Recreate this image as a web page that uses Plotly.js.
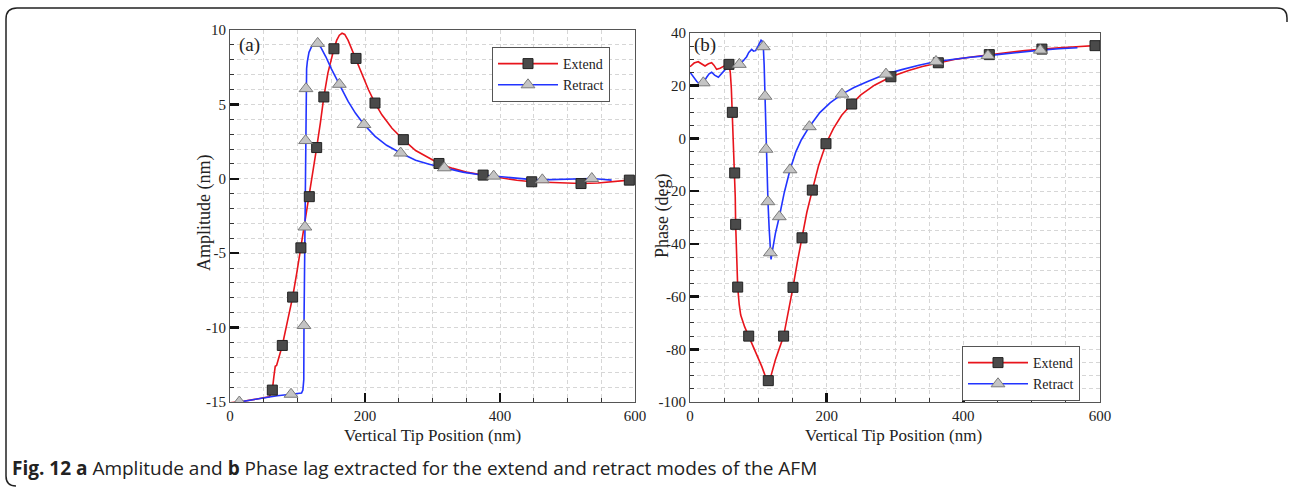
<!DOCTYPE html>
<html>
<head>
<meta charset="utf-8">
<script src="https://cdn.plot.ly/plotly-3.0.1.min.js"></script>
<style>html,body{margin:0;padding:0;background:#fff;}#chart{width:1289px;height:487px;}</style>
</head>
<body>
<div id="chart"></div>
<script>
// ---------- (a) Amplitude ----------
const ampExtendX = [0,20,40,58,61,62.7,65,67,69,72,77.5,85,92.8,99,105,111,117.5,123,128.4,134,139,145,150,154,158,162,166,170,175,180,186.7,195,205,214.8,225,240,256.8,275,290,309.6,330,350,375,400,425,447,470,495,520,545,570,591.6,597];
const ampExtendY = [-15.05,-14.95,-14.8,-14.65,-14.4,-14.2,-13.3,-12.6,-12.55,-12.0,-11.2,-9.6,-7.95,-6.3,-4.64,-3.0,-1.2,0.5,2.1,3.8,5.5,7.1,8.1,8.74,9.3,9.65,9.78,9.7,9.3,8.75,8.09,7.1,6.0,5.09,4.3,3.4,2.63,1.9,1.5,1.03,0.7,0.45,0.25,0.05,-0.1,-0.2,-0.25,-0.3,-0.32,-0.28,-0.2,-0.09,-0.05];
const ampRetractX = [0,13.8,30,50,70,90.4,100,106,108,109.3,109.6,110.3,111,112,112.6,113.5,114.6,117,121,125,129.9,135,142,150,162,175,186,198.5,215,232,252.8,275,295,317.5,345,370,390.6,420,440,462.7,490,515,536,550,565.4];
const ampRetractY = [-15.1,-15.0,-14.85,-14.7,-14.58,-14.48,-14.45,-14.4,-14.2,-13.5,-9.86,-6,-3.24,2.57,6.06,7.4,7.9,8.5,8.9,9.08,9.1,8.8,8.2,7.4,6.35,5.2,4.4,3.65,2.85,2.25,1.73,1.25,0.98,0.74,0.45,0.27,0.18,0.05,-0.02,-0.07,-0.05,-0.02,0.02,-0.03,-0.09];
const ampExtendMkX = [62.7,77.5,92.8,105,117.5,128.4,139,154,186.7,214.8,256.8,309.6,375,447,520,591.6];
const ampExtendMkY = [-14.2,-11.2,-7.95,-4.64,-1.2,2.1,5.5,8.74,8.09,5.09,2.63,1.03,0.25,-0.2,-0.32,-0.09];
const ampRetractMkX = [13.8,90.4,109.6,111,112,112.6,129.9,162,198.5,252.8,317.5,390.6,462.7,536];
const ampRetractMkY = [-15,-14.48,-9.86,-3.24,2.57,6.06,9.1,6.35,3.65,1.73,0.74,0.18,-0.07,0.02];
const ampTickVals = [-15,-10,-5,0,5,10];
const ampTickText = ["-15","-10","-5","0","5","10"];

// ---------- (b) Phase ----------
const phExtendX = [0,6,12,17,22,27,31.7,35,39,44,49,53,57,59,60.5,62,63.5,65.4,66.2,66.8,68,69.8,72,74.2,80,85.9,95,105,112,114.6,117,125,137,144,150.7,157,163.9,171,179,188,199,210,222,236.6,250,270,294,320,340,363.4,390,415,438,465,490,515,540,565,592.7,598];
const phExtendY = [27.2,28.6,29.1,28.2,27.5,28.3,28.7,27.8,26.2,26.6,27.4,27.9,28.1,25,19,9.9,-1,-13.1,-22,-32.6,-45,-56.4,-63,-67,-71.5,-75,-80.5,-86.5,-91.5,-92,-91.5,-84,-75,-66,-56.5,-47,-37.7,-28,-19.6,-10.5,-2.0,3.8,8.8,13.05,16.5,20.2,23.4,25.8,27.3,28.7,30.1,31.0,31.8,32.6,33.3,33.9,34.4,34.8,35.2,35.3];
const phRetractX = [0,5,10,14.6,19.5,24.4,28,31.7,36,41.5,46,51,58.5,65,72.2,78,82.9,86,90.2,93,96,100,104,105.5,107.3,108.5,109.8,110.5,111.2,112.5,114.1,115.8,117.6,118.6,121,125,130.7,138,146.4,155,163,174.7,190,205,222.4,240,260,286.8,310,335,360,385,410,436,460,485,512.7,540,567];
const phRetractY = [25.1,23.5,21.6,20.6,21.1,23.2,24.5,25.1,24,23.2,24.5,26,27,27.6,28.1,29.5,31,32.6,33.8,33.1,33.3,35.2,37.3,37,34.8,28,16.0,6,-4.1,-14,-24.0,-34,-43.4,-45.9,-42,-36,-29.7,-20.5,-11.9,-5,-0.5,4.45,9.8,13.5,16.8,19.3,21.6,24.4,26.1,27.8,29.2,30.1,30.8,31.4,32.1,32.8,33.5,34,34.4];
const phExtendMkX = [57,62,65.4,66.8,69.8,85.9,114.6,137,150.7,163.9,179,199,236.6,294,363.4,438,515,592.7];
const phExtendMkY = [28.1,9.9,-13.1,-32.6,-56.4,-75,-91.9,-75,-56.5,-37.7,-19.6,-2.0,13.05,23.4,28.7,31.8,33.9,35.2];
const phRetractMkX = [19.5,72.2,107.3,109.8,111.2,114.1,117.6,130.7,146.4,174.7,222.4,286.8,360,436,512.7];
const phRetractMkY = [21.1,28.1,34.8,16.0,-4.1,-24.0,-43.4,-29.7,-11.9,4.45,16.8,24.4,29.2,31.4,33.5];
const phTickVals = [-100,-80,-60,-40,-20,0,20,40];
const phTickText = ["-100","-80","-60","-40","-20","0","20","40"];

const xTickVals = [0,200,400,600];
const xTickText = ["0","200","400","600"];
const seriesNames = ["Extend","Retract"];

// ---------- styling ----------
const W = 1289, H = 487;
const px = v => v / W;
const py = v => 1 - v / H;
const RED = "#e8141c", BLUE = "#2234ff";
const SERIF = "Liberation Serif, Times New Roman, serif";
const extMarker = {symbol: "square", size: 10, color: "#4a4a4a", line: {color: "#222", width: 1}};
const retMarker = {symbol: "triangle-up", size: 12, color: "#c4c4c4", line: {color: "#7a7a7a", width: 1}};

function curve(x, y, color, xa, ya) {
  return {x, y, xaxis: xa, yaxis: ya, mode: "lines", line: {color, width: 1.6}, showlegend: false, hoverinfo: "skip"};
}
function marks(x, y, marker, xa, ya) {
  return {x, y, xaxis: xa, yaxis: ya, mode: "markers", marker, showlegend: false};
}
function legendEntry(name, color, marker, xa, ya, leg) {
  return {x: [null], y: [null], xaxis: xa, yaxis: ya, mode: "lines+markers", name, legend: leg,
          line: {color, width: 1.6}, marker, showlegend: true};
}

const data = [
  curve(ampExtendX, ampExtendY, RED, "x", "y"),
  curve(ampRetractX, ampRetractY, BLUE, "x", "y"),
  marks(ampExtendMkX, ampExtendMkY, extMarker, "x", "y"),
  marks(ampRetractMkX, ampRetractMkY, retMarker, "x", "y"),
  legendEntry(seriesNames[0], RED, extMarker, "x", "y", "legend"),
  legendEntry(seriesNames[1], BLUE, retMarker, "x", "y", "legend"),
  curve(phExtendX, phExtendY, RED, "x2", "y2"),
  curve(phRetractX, phRetractY, BLUE, "x2", "y2"),
  marks(phExtendMkX, phExtendMkY, extMarker, "x2", "y2"),
  marks(phRetractMkX, phRetractMkY, retMarker, "x2", "y2"),
  legendEntry(seriesNames[0], RED, extMarker, "x2", "y2", "legend2"),
  legendEntry(seriesNames[1], BLUE, retMarker, "x2", "y2", "legend2")
];

const gridCommon = {
  showline: true, mirror: true, linecolor: "#555", linewidth: 1,
  ticks: "inside", ticklen: 9, tickwidth: 2.5, tickcolor: "#111",
  showgrid: true, gridcolor: "#d6d6d6", griddash: "4px,3px", gridwidth: 1,
  zeroline: false, automargin: false, fixedrange: true,
  tickfont: {family: SERIF, size: 15, color: "#222"}
};
function xAxis(domain, anchor) {
  return Object.assign({}, gridCommon, {
    domain, anchor, range: [0, 600], tickmode: "array", tickvals: xTickVals, ticktext: xTickText,
    minor: {dtick: 50, tick0: 0, ticks: "inside", ticklen: 4, tickwidth: 1, tickcolor: "#333",
            showgrid: true, gridcolor: "#d6d6d6", griddash: "4px,3px", gridwidth: 1}
  });
}
function yAxis(domain, anchor, range, vals, text, minorStep) {
  return Object.assign({}, gridCommon, {
    domain, anchor, range, tickmode: "array", tickvals: vals, ticktext: text,
    minor: {dtick: minorStep, tick0: 0, ticks: "inside", ticklen: 4, tickwidth: 1, tickcolor: "#333",
            showgrid: true, gridcolor: "#d6d6d6", griddash: "4px,3px", gridwidth: 1}
  });
}

const legendCommon = {
  bgcolor: "#fff", bordercolor: "#555", borderwidth: 1,
  font: {family: SERIF, size: 14, color: "#222"},
  xanchor: "left", yanchor: "top", itemwidth: 60, tracegroupgap: 0
};

const xTitleFont = {family: SERIF, size: 17, color: "#222"};
const yTitleFont = {family: SERIF, size: 18, color: "#222"};

const layout = {
  width: W, height: H,
  margin: {l: 0, r: 0, t: 0, b: 0},
  paper_bgcolor: "#fff", plot_bgcolor: "#fff",
  showlegend: true,
  xaxis: xAxis([px(230), px(635)], "y"),
  yaxis: yAxis([1 - 402 / H, 1 - 30 / H], "x", [-15, 10], ampTickVals, ampTickText, 1),
  xaxis2: xAxis([px(690), px(1100)], "y2"),
  yaxis2: yAxis([1 - 402 / H, 1 - 33 / H], "x2", [-100, 40], phTickVals, phTickText, 5),
  legend: Object.assign({}, legendCommon, {x: px(492), y: py(47)}),
  legend2: Object.assign({}, legendCommon, {x: px(962), y: py(346)}),
  annotations: [
    {text: "(a)", xref: "paper", yref: "paper", x: px(237), y: py(45), xanchor: "left", yanchor: "middle", showarrow: false, font: {family: SERIF, size: 19, color: "#222"}},
    {text: "(b)", xref: "paper", yref: "paper", x: px(692), y: py(45), xanchor: "left", yanchor: "middle", showarrow: false, font: {family: SERIF, size: 19, color: "#222"}},
    {text: "Vertical Tip Position (nm)", xref: "paper", yref: "paper", x: px(432), y: py(435), xanchor: "center", yanchor: "middle", showarrow: false, font: xTitleFont},
    {text: "Vertical Tip Position (nm)", xref: "paper", yref: "paper", x: px(894), y: py(435), xanchor: "center", yanchor: "middle", showarrow: false, font: xTitleFont},
    {text: "Amplitude (nm)", xref: "paper", yref: "paper", x: px(204), y: py(213), xanchor: "center", yanchor: "middle", textangle: -90, showarrow: false, font: yTitleFont},
    {text: "Phase (deg)", xref: "paper", yref: "paper", x: px(662), y: py(216), xanchor: "center", yanchor: "middle", textangle: -90, showarrow: false, font: yTitleFont},
    {text: "<b>Fig. 12 a</b> Amplitude and <b>b</b> Phase lag extracted for the extend and retract modes of the AFM", xref: "paper", yref: "paper", x: px(10), y: py(468), xanchor: "left", yanchor: "middle", showarrow: false, font: {family: "Open Sans, sans-serif", size: 19, color: "#222"}}
  ],
  shapes: [
    {type: "path", xref: "paper", yref: "paper",
     path: "M " + px(1287) + "," + py(22) + " L " + px(1287) + "," + py(18) + " Q " + px(1287) + "," + py(8) + " " + px(1277) + "," + py(8) +
           " L " + px(17) + "," + py(8) + " Q " + px(6) + "," + py(8) + " " + px(6) + "," + py(19) +
           " L " + px(6) + "," + py(476) + " Q " + px(6) + "," + py(486) + " " + px(16) + "," + py(486),
     line: {color: "#222", width: 1.5}}
  ]
};

Plotly.newPlot("chart", data, layout, {displayModeBar: false, staticPlot: true});
</script>
</body>
</html>
